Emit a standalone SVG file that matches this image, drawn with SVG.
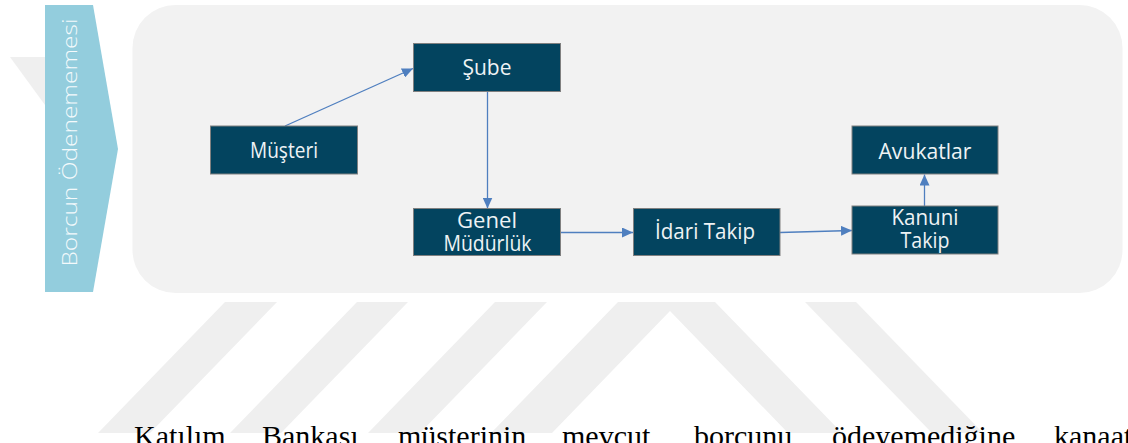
<svg xmlns="http://www.w3.org/2000/svg" width="1128" height="443" viewBox="0 0 1128 443">
  <style>
    .mark { fill: #EFEFEF; }
    .node rect { fill: #03445F; stroke: #808080; stroke-width: 1; }
    .node text { fill: #EEF3F5; font-family: "Open Sans", "Noto Sans", "Liberation Sans", sans-serif; font-size: 21px; text-anchor: middle; }
    .edge { fill: none; stroke: #4F7FBF; stroke-width: 1.3; marker-end: url(#head); }
    .body { font-family: "Liberation Serif", "Times New Roman", serif; font-size: 30px; fill: #000; }
  </style>
  <defs>
    <marker id="head" markerUnits="userSpaceOnUse" markerWidth="11" markerHeight="10" refX="11" refY="5" orient="auto">
      <path d="M0,0 L11,5 L0,10 z" fill="#4F7FBF"/>
    </marker>
  </defs>

  <rect width="1128" height="443" fill="#FFFFFF"/>

  <!-- background emblem bands -->
  <g id="emblem">
    <polygon class="mark" points="10,57 45,57 45,105"/>
    <polygon class="mark" points="225,302 277,302 150,433 98,433"/>
    <polygon class="mark" points="357,302 408,302 281,433 230,433"/>
    <polygon class="mark" points="495,302 547,302 420,433 368,433"/>
    <polygon class="mark" points="618,302 715,302 842,433 788,433 670,311 552,433 491,433"/>
    <polygon class="mark" points="805,302 856,302 983,433 932,433"/>
  </g>

  <!-- stage banner -->
  <g id="stage">
    <polygon points="45,5 93,5 118,149 93,292 45,292" fill="#93CDDD"/>
    <text transform="translate(77,142.5) rotate(-90)" text-anchor="middle" textLength="248" lengthAdjust="spacingAndGlyphs" font-family="'Open Sans', 'Noto Sans', 'Liberation Sans', sans-serif" font-weight="300" font-size="21" fill="#F4FAFC">Borcun Ödenememesi</text>
  </g>

  <!-- process panel -->
  <rect id="panel" x="132.5" y="5" width="990" height="288" rx="43" ry="43" fill="#F2F2F2"/>

  <g id="connectors">
    <path class="edge" d="M285,126 L413,68.5"/>
    <path class="edge" d="M487.5,92 L487.5,208.5"/>
    <path class="edge" d="M561,232.5 L633,232.5"/>
    <path class="edge" d="M780,232.5 L852,230.5"/>
    <path class="edge" d="M924.5,206 L924.5,174.5"/>
  </g>

  <g id="sube" class="node">
    <rect x="413.5" y="43.5" width="147" height="48"/>
    <text x="487" y="75" textLength="49" lengthAdjust="spacingAndGlyphs">Şube</text>
  </g>
  <g id="musteri" class="node">
    <rect x="210.5" y="126" width="147" height="48"/>
    <text x="284" y="157.5" textLength="68" lengthAdjust="spacingAndGlyphs">Müşteri</text>
  </g>
  <g id="genel-mudurluk" class="node">
    <rect x="413.5" y="208.5" width="147" height="47"/>
    <text x="487" y="228" textLength="60" lengthAdjust="spacingAndGlyphs">Genel</text>
    <text x="487.5" y="251" textLength="88" lengthAdjust="spacingAndGlyphs">Müdürlük</text>
  </g>
  <g id="idari-takip" class="node">
    <rect x="633.5" y="208.5" width="146.5" height="47"/>
    <text x="705" y="239" textLength="100" lengthAdjust="spacingAndGlyphs">İdari Takip</text>
  </g>
  <g id="kanuni-takip" class="node">
    <rect x="852" y="206" width="146" height="48"/>
    <text x="925" y="225" textLength="67" lengthAdjust="spacingAndGlyphs">Kanuni</text>
    <text x="925" y="247.5" textLength="49" lengthAdjust="spacingAndGlyphs">Takip</text>
  </g>
  <g id="avukatlar" class="node">
    <rect x="852" y="126" width="146" height="48"/>
    <text x="925" y="158.5" textLength="93" lengthAdjust="spacingAndGlyphs">Avukatlar</text>
  </g>

  <!-- running paragraph -->
  <text class="body" y="446"><tspan x="134">Katılım</tspan><tspan x="262">Bankası</tspan><tspan x="398">müşterinin</tspan><tspan x="562">mevcut</tspan><tspan x="694">borcunu</tspan><tspan x="832">ödeyemediğine</tspan><tspan x="1054">kanaat</tspan></text>
</svg>
